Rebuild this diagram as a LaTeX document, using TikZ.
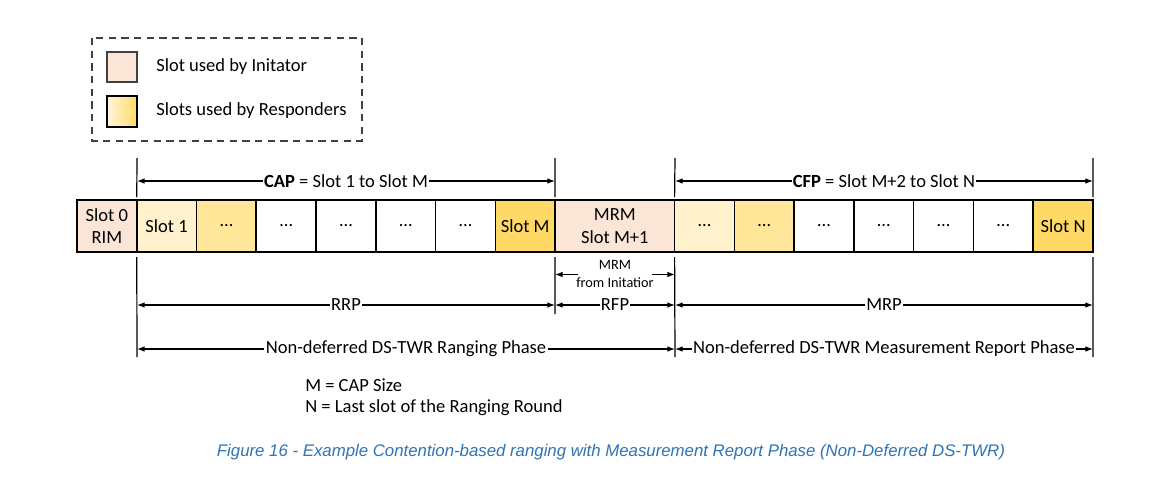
\documentclass[tikz,border=0pt]{standalone}
\usepackage{fontspec}
\setmainfont{Carlito}
\newfontfamily\capfont{Liberation Sans}
\usetikzlibrary{arrows.meta,calc}
\definecolor{peach}{HTML}{FBE5D6}
\definecolor{ylight}{HTML}{FFF2CC}
\definecolor{ymid}{HTML}{FFE699}
\definecolor{ygold}{HTML}{FFD966}
\definecolor{capblue}{RGB}{46,116,181}
\definecolor{boxgray}{HTML}{404040}
\begin{document}
\begin{tikzpicture}[x=0.75pt,y=-0.75pt,
  every node/.style={font=\fontsize{13.9}{17}\selectfont},
  slotbox/.style={draw=black, line width=1.2pt, rectangle, minimum height=39pt, inner sep=0pt, align=center, outer sep=0pt},
  tickline/.style={line width=0.9pt, black},
  dimline/.style={{Latex[length=5.8pt,width=4.2pt]}-{Latex[length=5.8pt,width=4.2pt]}, line width=0.8pt},
  onearrow/.style={-{Latex[length=5.8pt,width=4.2pt]}, line width=0.8pt},
  dimlabel/.style={fill=white, inner xsep=1pt, inner ysep=1pt}
]
\useasboundingbox (0,0) rectangle (1167,479);
\fill[white] (0,0) rectangle (1167,479);

% legend
\draw[boxgray, line width=1pt, dash pattern=on 5.5pt off 4pt] (92,38) rectangle (362,141);
\node[draw=boxgray, line width=1.1pt, fill=peach, minimum width=22.5pt, minimum height=22.5pt, inner sep=0pt] (lg1) at (122,67) {};
\node[draw=black, line width=1.4pt, left color=ylight!60!white, right color=ygold, minimum width=23pt, minimum height=23pt, inner sep=0pt] (lg2) at (122,111.5) {};
\node[anchor=west, inner sep=0pt] (lt1) at (156,67) {Slot used by Initator};
\node[anchor=west, inner sep=0pt] (lt2) at (156,111) {Slots used by Responders};

% slots
\def\u{59.76}
\foreach \i/\c/\t in {0/peach/{Slot 0\\RIM},1/ylight/{Slot 1},2/ymid/{…},3/white/{…},4/white/{…},5/white/{…},6/white/{…},7/ygold/{Slot M},
   10/ylight/{…},11/ymid/{…},12/white/{…},13/white/{…},14/white/{…},15/white/{…},16/ygold/{Slot N}}{
  \node[slotbox, fill=\c, minimum width=44.82pt] (s\i) at ({77+(\i+0.5)*\u},226) {\t};
}
\node[slotbox, fill=peach, minimum width=89.64pt] (s8) at ({77+9*\u},226) {MRM\\Slot M+1};

% tick coordinates
\coordinate (ta) at (137,158);
\coordinate (tb) at (555,158);
\coordinate (tc) at (675,158);
\coordinate (td) at (1093,158);
\coordinate (ba) at (137,357);
\coordinate (bb) at (555,314);
\coordinate (bc) at (675,357);
\coordinate (bd) at (1093,357);

\draw[tickline] (ta) -- ($(s1.north west)+(0,-3)$);
\draw[tickline] (tb) -- ($(s8.north west)+(0,-3)$);
\draw[tickline] (tc) -- ($(s8.north east)+(0,-3)$);
\draw[tickline] (td) -- ($(s16.north east)+(0,-3)$);
\draw[tickline] ($(s1.south west)+(0,5)$) -- (ba);
\draw[tickline] ($(s8.south west)+(0,5)$) -- (bb);
\draw[tickline] ($(s8.south east)+(0,5)$) -- (bc);
\draw[tickline] ($(s16.south east)+(0,5)$) -- (bd);

% top dimension arrows
\coordinate (capL) at (137,181);
\coordinate (capR) at (555,181);
\coordinate (cfpL) at (675,181);
\coordinate (cfpR) at (1093,181);
\draw[dimline] (capL) -- (capR) node[midway, dimlabel] (caplbl) {\textbf{CAP} = Slot 1 to Slot M};
\draw[dimline] (cfpL) -- (cfpR) node[midway, dimlabel] (cfplbl) {\textbf{CFP} = Slot M+2 to Slot N};

% MRM from initiator
\node[align=center, inner sep=0pt, font=\fontsize{10.7}{13.5}\selectfont] (mrmlbl) at (615,274) {MRM\\from Initatior};
\coordinate (mA) at (555,274.5);
\coordinate (mB) at (578,274.5);
\coordinate (mC) at (652,274.5);
\coordinate (mD) at (675,274.5);
\draw[onearrow] (mB) -- (mA);
\draw[onearrow] (mC) -- (mD);

% second row
\coordinate (rrpL) at (137,305);
\coordinate (rrpR) at (555,305);
\coordinate (rfpR) at (675,305);
\coordinate (mrpR) at (1093,305);
\draw[dimline] (rrpL) -- (rrpR) node[midway, dimlabel] (rrplbl) {RRP};
\draw[dimline] (rrpR) -- (rfpR) node[midway, dimlabel] (rfplbl) {RFP};
\draw[dimline] (rfpR) -- (mrpR) node[midway, dimlabel] (mrplbl) {MRP};

% third row
\coordinate (phL) at (137,349);
\coordinate (phM) at (675,349);
\coordinate (phR) at (1093,349);
\draw[dimline] (phL) -- (phM) node[midway, dimlabel] (ph1lbl) {Non-deferred DS-TWR Ranging Phase};
\draw[dimline] (phM) -- (phR) node[midway, dimlabel, inner xsep=0.5pt] (ph2lbl) {Non-deferred DS-TWR Measurement Report Phase};

% notes
\node[anchor=west, inner sep=0pt] (note1) at (305,385) {M = CAP Size};
\node[anchor=west, inner sep=0pt] (note2) at (305,408) {N = Last slot of the Ranging Round};

% caption
\node[inner sep=0pt, text=capblue, font=\capfont\itshape\fontsize{12.6}{14}\selectfont] (caption) at (611,452) {Figure 16 - Example Contention-based ranging with Measurement Report Phase (Non-Deferred DS-TWR)};
\end{tikzpicture}
\end{document}
